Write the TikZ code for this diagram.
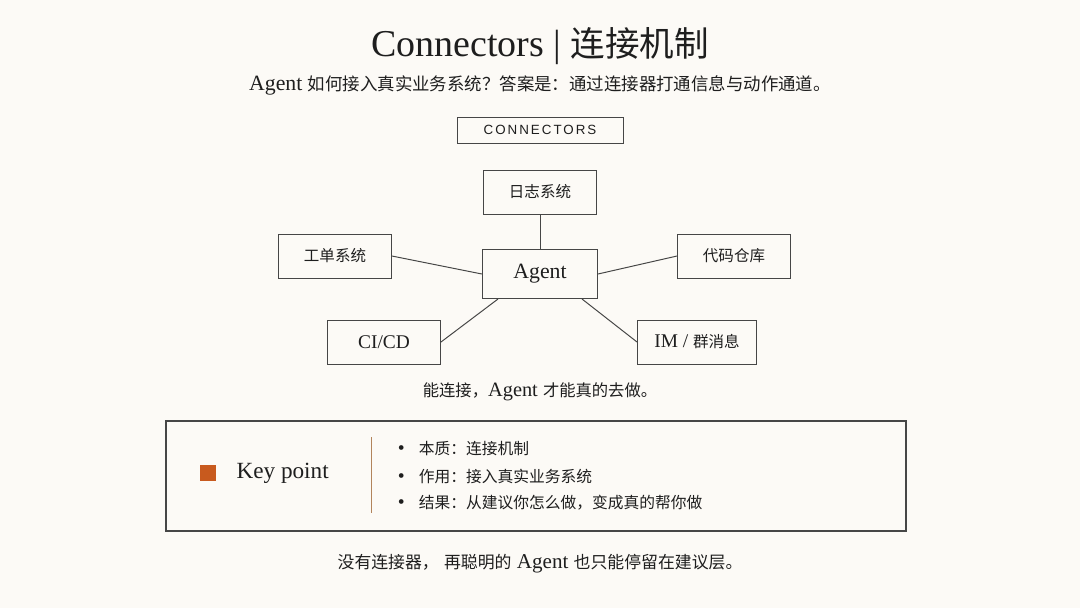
\documentclass[tikz,border=0pt]{standalone}
\usepackage{fontspec}
\setmainfont{Liberation Serif}
\newfontfamily\cjk[Scale=0.8]{Noto Sans CJK SC}
\newfontfamily\capsfont[LetterSpace=15]{Liberation Sans}
\definecolor{PaperBg}{RGB}{252,250,246}
\definecolor{InkDark}{RGB}{30,30,30}
\definecolor{EdgeGray}{RGB}{70,70,70}
\definecolor{KeyOrange}{RGB}{200,90,30}
\definecolor{KeyTan}{RGB}{178,132,92}
\usepackage{tikz}
\usetikzlibrary{
    positioning,
}

\begin{document}
\begin{tikzpicture}[
    sysbox/.style={rectangle, draw=EdgeGray, line width=0.7pt, minimum width=2.825cm, minimum height=1.1cm, inner sep=0pt, text=InkDark, font=\fontsize{13.8}{16}\selectfont},
    link/.style={draw=EdgeGray, line width=0.7pt},
    txt/.style={text=InkDark, inner sep=0pt},
    pt/.style={txt, anchor=west, font=\fontsize{14}{16}\selectfont}
]
    \fill[PaperBg] (0,0) rectangle (27,-15.2);
    \useasboundingbox (0,0) rectangle (27,-15.2);
    % heading
    \node[txt, font=\fontsize{27}{32}\selectfont] (title) at (13.5,-1.15)
        {Connectors | {\fontsize{30.7}{36}\selectfont\cjk 连接机制}};
    \node[txt, font=\fontsize{15.5}{18}\selectfont] (sub) at (13.5,-2.125)
        {Agent {\cjk 如何接入真实业务系统？答案是：通过连接器打通信息与动作通道。}};
    \node[draw=EdgeGray, line width=0.7pt, minimum width=4.15cm, minimum height=0.65cm, text=InkDark, font=\capsfont\fontsize{9.5}{11}\selectfont] (tag) at (13.5,-3.25) {CONNECTORS};
    % hub and systems
    \node[sysbox, minimum width=2.875cm, minimum height=1.225cm, font=\fontsize{15.5}{18}\selectfont] (agent) at (13.5,-6.85) {Agent};
    \node[sysbox] (logs)   at (13.5,-4.8)   {\cjk 日志系统};
    \node[sysbox] (ticket) at (8.375,-6.4)  {\cjk 工单系统};
    \node[sysbox] (repo)   at (18.35,-6.4)  {\cjk 代码仓库};
    \node[sysbox] (cicd)   at (9.6,-8.55)   {CI/CD};
    \node[sysbox, minimum width=2.975cm] (im) at (17.425,-8.55) {IM / {\cjk 群消息}};
    \draw[link] (logs) -- (agent);
    \draw[link] (ticket.east) -- (agent.west);
    \draw[link] (repo.west) -- (agent.east);
    \draw[link] (cicd.east) -- ([xshift=-1.05cm]agent.south);
    \draw[link] (im.west) -- ([xshift=1.05cm]agent.south);
    \node[txt, font=\fontsize{14.5}{17}\selectfont] (cap) at (13.5,-9.8)
        {{\cjk 能连接，}Agent {\cjk 才能真的去做。}};
    % key point panel
    \node[draw=EdgeGray, line width=0.8pt, minimum width=18.5cm, minimum height=2.75cm] (key) at (13.4,-11.9) {};
    \node[fill=KeyOrange, minimum size=0.4cm, inner sep=0pt] (mark) at (5.2,-11.825) {};
    \node[txt, font=\fontsize{16.5}{19}\selectfont, right=0.5cm of mark] (kp) {Key point};
    \coordinate (divtop) at (9.29,-10.925);
    \coordinate (divbot) at (9.29,-12.825);
    \draw[KeyTan, line width=1pt] (divtop) -- (divbot);
    \node[pt] (b1) at (9.94,-11.225) {\textbullet\hspace{10pt}{\cjk 本质：连接机制}};
    \node[pt] (b2) at (9.94,-11.9)   {\textbullet\hspace{10pt}{\cjk 作用：接入真实业务系统}};
    \node[pt] (b3) at (9.94,-12.575) {\textbullet\hspace{10pt}{\cjk 结果：从建议你怎么做，变成真的帮你做}};
    \node[txt, font=\fontsize{15}{18}\selectfont] (foot) at (13.5,-14.1)
        {{\cjk 没有连接器，} {\cjk 再聪明的} Agent {\cjk 也只能停留在建议层。}};
\end{tikzpicture}
\end{document}
